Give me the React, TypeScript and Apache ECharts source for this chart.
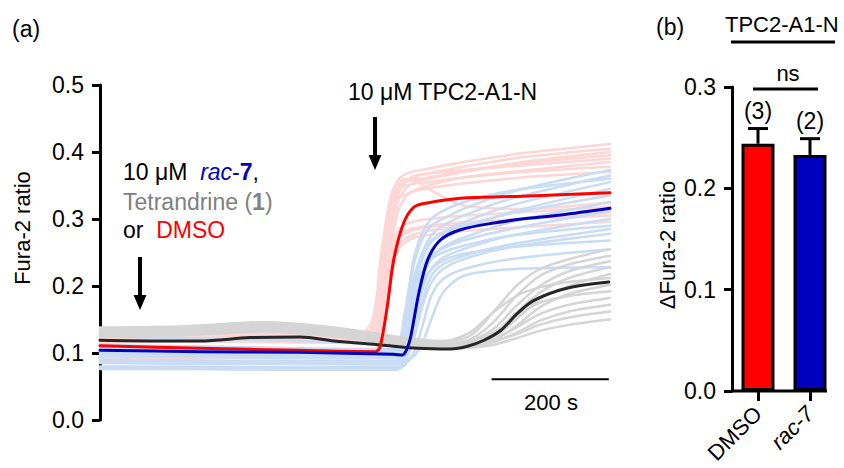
import React, { useEffect, useRef } from "react";
import * as echarts from "echarts";

const FONT = "'Liberation Sans', Arial, Helvetica, sans-serif";

// ---------- Panel (a): Fura-2 ratio traces ----------
const timeMaxA = 870; // seconds shown
const yMaxA = 0.5;
const yStep = 0.1;

// individual DMSO traces (light red)
const pinkT = [0, 150, 300, 440, 465, 480, 495, 510, 530, 560, 620, 720, 870];
const pink1 = [0.128, 0.13, 0.128, 0.126, 0.15, 0.25, 0.33, 0.36, 0.37, 0.375, 0.385, 0.398, 0.412];
const pink2 = [0.125, 0.127, 0.125, 0.123, 0.13, 0.2, 0.3, 0.345, 0.36, 0.368, 0.378, 0.392, 0.405];
const pink3 = [0.122, 0.124, 0.123, 0.121, 0.125, 0.17, 0.27, 0.33, 0.352, 0.36, 0.37, 0.385, 0.4];
const pink4 = [0.12, 0.122, 0.121, 0.12, 0.135, 0.23, 0.32, 0.35, 0.358, 0.362, 0.372, 0.383, 0.395];
const pink5 = [0.126, 0.128, 0.126, 0.124, 0.128, 0.18, 0.28, 0.34, 0.362, 0.368, 0.373, 0.38, 0.39];
const pink6 = [0.118, 0.12, 0.119, 0.118, 0.122, 0.16, 0.25, 0.315, 0.34, 0.35, 0.362, 0.372, 0.385];
const pink7 = [0.124, 0.126, 0.125, 0.123, 0.14, 0.24, 0.32, 0.345, 0.352, 0.355, 0.362, 0.37, 0.378];
const pink8 = [0.121, 0.123, 0.122, 0.121, 0.126, 0.19, 0.29, 0.33, 0.34, 0.346, 0.353, 0.362, 0.37];
const pink9 = [0.123, 0.125, 0.124, 0.122, 0.13, 0.22, 0.32, 0.355, 0.36, 0.345, 0.32, 0.315, 0.325];
const pink10 = [0.119, 0.121, 0.12, 0.119, 0.123, 0.17, 0.25, 0.285, 0.295, 0.3, 0.305, 0.31, 0.318];
const pink11 = [0.117, 0.119, 0.118, 0.117, 0.12, 0.15, 0.23, 0.27, 0.282, 0.288, 0.293, 0.3, 0.309];
const pink12 = [0.115, 0.117, 0.116, 0.115, 0.118, 0.14, 0.21, 0.255, 0.27, 0.276, 0.282, 0.288, 0.296];
const pink13 = [0.12, 0.122, 0.121, 0.12, 0.124, 0.165, 0.24, 0.275, 0.285, 0.29, 0.295, 0.3, 0.305];
const pink14 = [0.092, 0.093, 0.092, 0.092, 0.095, 0.14, 0.22, 0.262, 0.275, 0.282, 0.29, 0.3, 0.312];
const pinkTraces = [pink1, pink2, pink3, pink4, pink5, pink6, pink7, pink8, pink9, pink10, pink11, pink12, pink13, pink14];

// individual rac-7 traces (light blue)
const blueT = [0, 150, 300, 450, 505, 520, 535, 550, 565, 585, 620, 700, 870];
const lblue1 = [0.11, 0.108, 0.106, 0.104, 0.104, 0.15, 0.23, 0.27, 0.29, 0.3, 0.315, 0.34, 0.373];
const lblue2 = [0.106, 0.104, 0.102, 0.1, 0.1, 0.13, 0.2, 0.25, 0.275, 0.29, 0.305, 0.33, 0.365];
const lblue3 = [0.1, 0.099, 0.098, 0.097, 0.097, 0.12, 0.19, 0.24, 0.265, 0.28, 0.295, 0.32, 0.355];
const lblue4 = [0.095, 0.094, 0.093, 0.092, 0.092, 0.11, 0.17, 0.225, 0.255, 0.27, 0.285, 0.31, 0.345];
const lblue5 = [0.112, 0.11, 0.108, 0.106, 0.106, 0.14, 0.21, 0.25, 0.268, 0.278, 0.29, 0.308, 0.335];
const lblue6 = [0.09, 0.089, 0.088, 0.088, 0.088, 0.1, 0.15, 0.21, 0.24, 0.258, 0.272, 0.295, 0.325];
const lblue7 = [0.102, 0.1, 0.099, 0.098, 0.098, 0.125, 0.185, 0.225, 0.245, 0.256, 0.268, 0.285, 0.312];
const lblue8 = [0.085, 0.084, 0.084, 0.083, 0.083, 0.095, 0.14, 0.195, 0.225, 0.242, 0.255, 0.275, 0.3];
const lblue9 = [0.108, 0.106, 0.105, 0.103, 0.103, 0.13, 0.19, 0.225, 0.24, 0.25, 0.26, 0.275, 0.29];
const lblue10 = [0.08, 0.08, 0.079, 0.079, 0.079, 0.088, 0.12, 0.17, 0.205, 0.225, 0.24, 0.258, 0.278];
const lblue11 = [0.097, 0.096, 0.095, 0.094, 0.094, 0.11, 0.16, 0.205, 0.225, 0.238, 0.248, 0.258, 0.268];
const lblue12 = [0.078, 0.077, 0.077, 0.076, 0.076, 0.082, 0.1, 0.14, 0.185, 0.21, 0.225, 0.24, 0.255];
const lblue13 = [0.088, 0.087, 0.087, 0.086, 0.086, 0.088, 0.095, 0.115, 0.15, 0.19, 0.215, 0.225, 0.228];
const lblue14 = [0.125, 0.122, 0.119, 0.115, 0.113, 0.16, 0.24, 0.28, 0.3, 0.312, 0.325, 0.342, 0.36];
const lblue15 = [0.076, 0.076, 0.075, 0.075, 0.075, 0.085, 0.125, 0.18, 0.215, 0.232, 0.245, 0.262, 0.285];
const lblueTraces = [lblue1, lblue2, lblue3, lblue4, lblue5, lblue6, lblue7, lblue8, lblue9, lblue10, lblue11, lblue12, lblue13, lblue14, lblue15];

// individual Tetrandrine traces (light grey)
const greyT = [0, 150, 280, 400, 500, 580, 630, 670, 710, 750, 800, 870];
const grey1 = [0.138, 0.14, 0.146, 0.138, 0.125, 0.118, 0.125, 0.16, 0.2, 0.225, 0.24, 0.255];
const grey2 = [0.135, 0.137, 0.143, 0.135, 0.122, 0.115, 0.12, 0.145, 0.185, 0.215, 0.232, 0.245];
const grey3 = [0.132, 0.134, 0.14, 0.133, 0.12, 0.113, 0.118, 0.135, 0.17, 0.2, 0.222, 0.237];
const grey4 = [0.13, 0.131, 0.137, 0.13, 0.118, 0.111, 0.115, 0.128, 0.16, 0.19, 0.212, 0.228];
const grey5 = [0.128, 0.13, 0.135, 0.128, 0.116, 0.11, 0.112, 0.122, 0.15, 0.18, 0.2, 0.218];
const grey6 = [0.136, 0.138, 0.144, 0.136, 0.124, 0.117, 0.13, 0.16, 0.185, 0.198, 0.206, 0.212];
const grey7 = [0.126, 0.128, 0.133, 0.126, 0.114, 0.108, 0.11, 0.118, 0.14, 0.168, 0.188, 0.202];
const grey8 = [0.133, 0.135, 0.141, 0.134, 0.121, 0.114, 0.118, 0.13, 0.155, 0.175, 0.185, 0.192];
const grey9 = [0.129, 0.131, 0.136, 0.129, 0.117, 0.11, 0.112, 0.12, 0.138, 0.158, 0.172, 0.182];
const grey10 = [0.127, 0.129, 0.134, 0.127, 0.115, 0.108, 0.11, 0.116, 0.13, 0.148, 0.162, 0.172];
const grey11 = [0.131, 0.133, 0.139, 0.131, 0.119, 0.112, 0.114, 0.118, 0.128, 0.142, 0.153, 0.162];
const grey12 = [0.125, 0.127, 0.132, 0.125, 0.113, 0.107, 0.108, 0.112, 0.122, 0.133, 0.142, 0.15];
const greyTraces = [grey1, grey2, grey3, grey4, grey5, grey6, grey7, grey8, grey9, grey10, grey11, grey12];

// mean traces
const meanTetT = [0, 100, 171, 256, 342, 399, 479, 542, 598, 627, 655, 684, 713, 741, 798, 868];
const meanTet = [0.119, 0.118, 0.118, 0.123, 0.124, 0.118, 0.112, 0.107, 0.106, 0.11, 0.119, 0.134, 0.16, 0.179, 0.197, 0.206];
const meanDmsoT = [0, 170, 340, 470, 478, 490, 501, 518, 536, 558, 615, 720, 870];
const meanDmso = [0.111, 0.107, 0.104, 0.102, 0.11, 0.169, 0.239, 0.294, 0.318, 0.324, 0.331, 0.334, 0.339];
const meanRacT = [0, 170, 340, 500, 516, 523, 530, 544, 559, 581, 615, 672, 730, 786, 870];
const meanRac = [0.104, 0.102, 0.101, 0.098, 0.097, 0.105, 0.124, 0.19, 0.239, 0.269, 0.284, 0.294, 0.301, 0.306, 0.316];

// 200 s scale bar (time range)
const scaleBarT = [668, 868];
const scaleBarY = 0.061;

// ---------- Panel (b): bar chart ----------
const barCategories = ["DMSO", "rac-7"];
const barMeans = [0.244, 0.233];
const barErrors = [0.015, 0.016];
const barN = ["(3)", "(2)"];
const yMaxB = 0.3;

const PINK = "#fdd6d6";
const LBLUE = "#c8dcf4";
const LGREY = "#d5d5d5";

function pairs(t: number[], v: number[]) {
  return t.map((x, i) => [x, v[i]]);
}

function lineSeries(t: number[], v: number[], color: string, width: number, z: number) {
  return {
    type: "line",
    xAxisIndex: 0,
    yAxisIndex: 0,
    data: pairs(t, v),
    showSymbol: false,
    symbol: "none",
    smooth: 0.3,
    lineStyle: { color, width, cap: "round", join: "round" },
    z,
    silent: true,
  };
}

function txt(text: string, x: number, y: number, size: number, extra: any = {}) {
  return {
    type: "text",
    x,
    y,
    silent: true,
    style: {
      text,
      font: `${size}px ${FONT}`,
      fontSize: size,
      fontFamily: FONT,
      fill: "#000",
      align: "left",
      verticalAlign: "middle",
      textAlign: "left",
      textVerticalAlign: "middle",
      ...extra,
    },
  };
}

function arrow(x: number, y0: number, y1: number) {
  return {
    type: "group",
    silent: true,
    children: [
      { type: "line", shape: { x1: x, y1: y0, x2: x, y2: y1 - 13 }, style: { stroke: "#000", lineWidth: 4 } },
      { type: "polygon", shape: { points: [[x - 6.5, y1 - 15], [x + 6.5, y1 - 15], [x, y1]] }, style: { fill: "#000" } },
    ],
  };
}

export default function App() {
  const ref = useRef<HTMLDivElement>(null);
  useEffect(() => {
    document.body.style.margin = "0";
    const chart = echarts.init(ref.current!, null, { renderer: "svg" });
    const series: any[] = [];
    pinkTraces.forEach((v) => series.push(lineSeries(pinkT, v, PINK, 2.5, 2)));
    lblueTraces.forEach((v) => series.push(lineSeries(blueT, v, LBLUE, 2.5, 3)));
    greyTraces.forEach((v) => series.push(lineSeries(greyT, v, LGREY, 2.5, 4)));
    series.push(lineSeries(meanTetT, meanTet, "#262626", 3, 5));
    series.push(lineSeries(meanDmsoT, meanDmso, "#ff0000", 3, 6));
    series.push(lineSeries(meanRacT, meanRac, "#0000bb", 3, 7));
    series.push({
      type: "line",
      xAxisIndex: 0,
      yAxisIndex: 0,
      data: [[scaleBarT[0], scaleBarY], [scaleBarT[1], scaleBarY]],
      showSymbol: false,
      symbol: "none",
      lineStyle: { color: "#000", width: 2 },
      z: 8,
      silent: true,
    });
    series.push({
      type: "bar",
      xAxisIndex: 1,
      yAxisIndex: 1,
      barWidth: 33,
      data: barMeans.map((v, i) => ({
        value: v,
        itemStyle: { color: i === 0 ? "#ff0000" : "#0000c0", borderColor: "#000", borderWidth: 3 },
      })),
      z: 5,
      silent: true,
    });
    series.push({
      type: "custom",
      xAxisIndex: 1,
      yAxisIndex: 1,
      data: barMeans.map((v, i) => [i, v, v + barErrors[i]]),
      z: 6,
      silent: true,
      renderItem: (params: any, api: any) => {
        const i = api.value(0);
        const base = api.coord([i, api.value(1)]);
        const top = api.coord([i, api.value(2)]);
        return {
          type: "group",
          children: [
            { type: "line", shape: { x1: base[0], y1: base[1], x2: top[0], y2: top[1] }, style: { stroke: "#000", lineWidth: 3 } },
            { type: "line", shape: { x1: top[0] - 10, y1: top[1], x2: top[0] + 10, y2: top[1] }, style: { stroke: "#000", lineWidth: 3 } },
            {
              type: "text",
              x: top[0],
              y: top[1] - 18,
              style: {
                text: barN[params.dataIndex],
                font: `23px ${FONT}`,
                fill: "#000",
                align: "center",
                verticalAlign: "middle",
                textAlign: "center",
                textVerticalAlign: "middle",
              },
            },
          ],
        };
      },
    });

    const yAxisCommon = {
      type: "value",
      min: 0,
      interval: yStep,
      axisLine: { show: true, lineStyle: { color: "#000", width: 3 } },
      axisTick: { show: true, inside: false, length: 8, lineStyle: { color: "#000", width: 3 } },
      axisLabel: {
        color: "#000",
        fontSize: 23,
        fontFamily: FONT,
        margin: 16,
        formatter: (v: number) => v.toFixed(1),
      },
      splitLine: { show: false },
    };

    chart.setOption({
      animation: false,
      backgroundColor: "#fff",
      grid: [
        { left: 100, top: 85, width: 510, height: 335 },
        { left: 732, top: 87, width: 104, height: 304 },
      ],
      xAxis: [
        { type: "value", gridIndex: 0, min: 0, max: timeMaxA, show: false },
        {
          type: "category",
          gridIndex: 1,
          data: barCategories,
          axisLine: { show: false },
          axisTick: { show: true, alignWithLabel: true, length: 10, lineStyle: { color: "#000", width: 3 } },
          axisLabel: {
            rotate: 45,
            margin: 19,
            color: "#000",
            fontSize: 22,
            fontFamily: FONT,
            formatter: (v: string) => (v === "rac-7" ? "{i|rac-7}" : v),
            rich: { i: { fontStyle: "italic", fontSize: 22, fontFamily: FONT, color: "#000" } },
          },
        },
      ],
      yAxis: [
        { ...yAxisCommon, gridIndex: 0, max: yMaxA },
        { ...yAxisCommon, gridIndex: 1, max: yMaxB },
      ],
      series,
      graphic: [
        txt("(a)", 12, 29, 23),
        txt("(b)", 656, 27, 23),
        {
          type: "text",
          x: 22,
          y: 228,
          rotation: Math.PI / 2,
          silent: true,
          style: {
            text: "Fura-2 ratio",
            font: `22px ${FONT}`,
            fill: "#000",
            align: "center",
            verticalAlign: "middle",
            textAlign: "center",
            textVerticalAlign: "middle",
          },
        },
        {
          type: "text",
          x: 667,
          y: 245,
          rotation: Math.PI / 2,
          silent: true,
          style: {
            text: "ΔFura-2 ratio",
            font: `22px ${FONT}`,
            fill: "#000",
            align: "center",
            verticalAlign: "middle",
            textAlign: "center",
            textVerticalAlign: "middle",
          },
        },
        txt("10 μM TPC2-A1-N", 348, 92, 23),
        txt("10 μM  {r|rac}{rb|-}{b|7},", 123, 172, 23, {
          rich: {
            r: { fill: "#0000bb", fontStyle: "italic", fontSize: 23, fontFamily: FONT },
            rb: { fill: "#0000bb", fontSize: 23, fontFamily: FONT },
            b: { fill: "#0000bb", fontWeight: "bold", fontSize: 23, fontFamily: FONT },
          },
        }),
        txt("Tetrandrine ({g|1})", 123, 202, 23, {
          fill: "#808080",
          rich: { g: { fill: "#808080", fontWeight: "bold", fontSize: 23, fontFamily: FONT } },
        }),
        txt("or  {d|DMSO}", 123, 230, 23, {
          rich: { d: { fill: "#ff0000", fontSize: 23, fontFamily: FONT } },
        }),
        arrow(140, 257, 310),
        arrow(375, 117, 170),
        txt("200 s", 551, 402, 22, { align: "center", textAlign: "center" }),
        txt("TPC2-A1-N", 725, 24, 22),
        { type: "line", silent: true, shape: { x1: 731, y1: 42, x2: 835, y2: 42 }, style: { stroke: "#000", lineWidth: 3 } },
        txt("ns", 788, 73, 22, { align: "center", textAlign: "center" }),
        { type: "line", silent: true, shape: { x1: 753, y1: 89, x2: 818, y2: 89 }, style: { stroke: "#000", lineWidth: 3 } },
        { type: "line", silent: true, shape: { x1: 731, y1: 391, x2: 827, y2: 391 }, style: { stroke: "#000", lineWidth: 3 } },
      ],
    });
    return () => chart.dispose();
  }, []);
  return (
    <div
      ref={ref}
      style={{ position: "fixed", left: 0, top: 0, width: 844, height: 468, background: "#fff" }}
    />
  );
}
